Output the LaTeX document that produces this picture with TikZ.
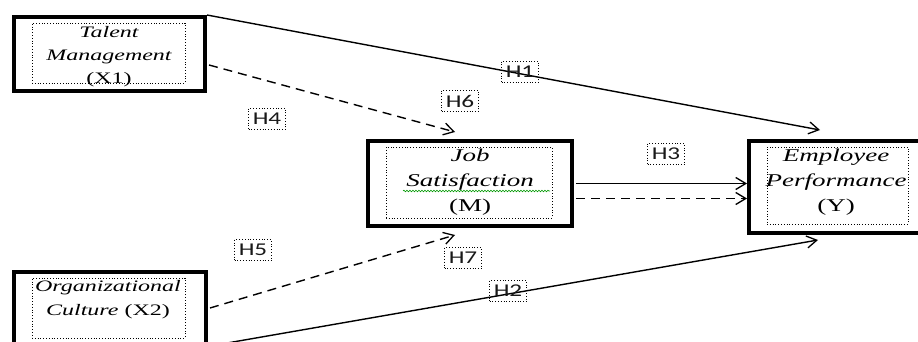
\documentclass[tikz,border=0pt]{standalone}
\usepackage{fontspec}
\newfontfamily\boxfont[FakeStretch=1.5]{Liberation Serif}
\newfontfamily\labfont[FakeStretch=1.4]{Carlito}
\usetikzlibrary{arrows.meta,calc,decorations.pathmorphing}
\begin{document}
\begin{tikzpicture}[x=1pt,y=-1pt,
  outerbox/.style={draw,line width=4pt,inner sep=0pt},
  dotbox/.style={draw,dotted,line width=0.8pt,inner sep=0pt},
  smalltext/.style={align=center,inner sep=0pt,font=\boxfont\itshape\fontsize{16}{23}\selectfont},
  bigtext/.style={align=center,inner sep=0pt,font=\boxfont\itshape\fontsize{18}{25}\selectfont},
  hlab/.style={draw,dotted,line width=0.8pt,minimum width=37pt,minimum height=21pt,inner sep=0pt,
    text=black!90,font=\labfont\fontsize{18}{20}\selectfont},
  conn/.style={line width=1.4pt,-{Straight Barb[length=10pt,width=12pt,line width=1.3pt]}},
  dconn/.style={conn,dash pattern=on 9pt off 6pt}]
\clip (0,0) rectangle (918,342);
\fill[white] (0,0) rectangle (918,342);
% boxes
\node[outerbox,minimum width=191pt,minimum height=74pt] (X1) at (109.5,54) {};
\node[dotbox,minimum width=153pt,minimum height=60pt] (X1in) at (108.5,53) {};
\node[smalltext] (X1t) at (109,57) {Talent\\Management\\\upshape(X1)};
\node[outerbox,minimum width=192pt,minimum height=74pt] (X2) at (110,309) {};
\node[dotbox,minimum width=153pt,minimum height=60pt] (X2in) at (108.5,308) {};
\node[smalltext,font=\boxfont\itshape\fontsize{16}{24}\selectfont] (X2t) at (108,300) {Organizational\\Culture {\upshape(X2)}};
\node[outerbox,minimum width=204pt,minimum height=85pt] (M) at (470,183.5) {};
\node[dotbox,minimum width=166pt,minimum height=71pt] (Min) at (469,182.5) {};
\node[bigtext] (Mt) at (470,182) {Job\\Satisfaction\\\upshape(M)};
\node[outerbox,minimum width=171pt,minimum height=92pt] (Y) at (834.5,187) {};
\node[dotbox,minimum width=141pt,minimum height=77pt] (Yin) at (837.5,185.5) {};
\node[bigtext] (Yt) at (836,182) {Employee\\Performance\\\upshape(Y)};
\draw[green!60!black,line width=0.6pt,decorate,decoration={snake,amplitude=0.8pt,segment length=3pt}]
  (403,191) -- (550,191);
% connectors
\draw[conn] (X1.north east) -- ([shift={(73,-9)}]Y.north west);
\draw[dconn] ([shift={(2,11)}]X1.east) -- ([shift={(-15,-7)}]M.north);
\draw[dconn] ([shift={(2,-1)}]X2.east) -- ([shift={(-15,7)}]M.south);
\draw[conn] ([shift={(2,37)}]X2.east) -- ([shift={(71,5)}]Y.south west);
\coordinate (s1) at ([shift={(2,0)}]M.east);
\coordinate (d1) at ([shift={(2,15)}]M.east);
\draw[conn] (s1) -- (s1 -| Y.west);
\draw[dconn] (d1) -- (d1 -| Y.west);
% labels
\node[hlab] (H1) at (520,72) {H1};
\node[hlab] (H6) at (460,101) {H6};
\node[hlab] (H4) at (267,119) {H4};
\node[hlab] (H5) at (253,250) {H5};
\node[hlab] (H7) at (463,258) {H7};
\node[hlab] (H2) at (508,291) {H2};
\node[hlab] (H3) at (666,154) {H3};
\end{tikzpicture}
\end{document}
